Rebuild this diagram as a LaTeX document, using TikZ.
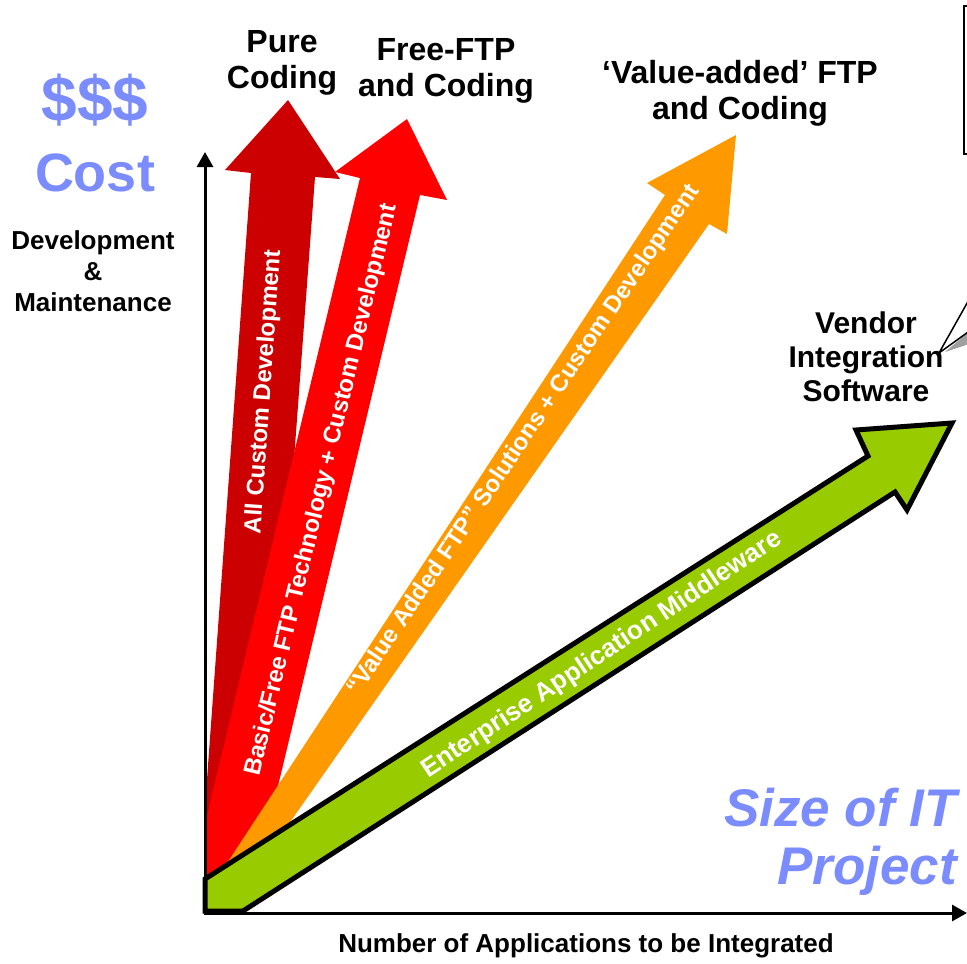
\documentclass[tikz,border=0pt]{standalone}
\usepackage{fontspec}
\setmainfont{Liberation Sans}
\usetikzlibrary{arrows.meta}
\definecolor{darkredA}{HTML}{CC0000}
\definecolor{redA}{HTML}{FF0000}
\definecolor{orangeA}{HTML}{FF9900}
\definecolor{greenA}{HTML}{99CC00}
\definecolor{costblue}{RGB}{122,140,255}
\definecolor{shadowgray}{RGB}{160,160,160}
\begin{document}
\begin{tikzpicture}[x=1pt,y=-1pt,
  toplbl/.style={font=\fontsize{32}{36}\selectfont\bfseries, align=center, inner sep=0pt},
  sidelbl/.style={font=\fontsize{26}{31}\selectfont\bfseries, align=center, inner sep=0pt},
  arrowtxt/.style={font=\fontsize{#1}{28}\selectfont\bfseries, text=white, inner sep=0pt},
  arrowtxt/.default=24,
  bigblue/.style={font=\fontsize{#1}{#1}\selectfont\bfseries, text=costblue, inner sep=0pt},
  bigitalic/.style={font=\fontsize{53}{58}\selectfont\bfseries\itshape, text=costblue, align=right, inner sep=0pt},
  axisline/.style={line width=3pt, -{Triangle[length=15pt,width=16pt]}}]
\useasboundingbox (0,0) rectangle (967,964);
\begin{scope}
\clip (0,0) rectangle (967,964);

% dark red arrow
\fill[darkredA] (288,100) -- (340,179) -- (315,177) -- (262,890) -- (205,890) -- (205,807) -- (251,173) -- (225,170) -- cycle;
% red arrow
\fill[redA] (407,119) -- (447,200) -- (420,195) -- (253,890) -- (205,890) -- (205,824) -- (360,178) -- (335,172) -- cycle;
% orange arrow
\fill[orangeA] (736,135) -- (727,234) -- (709,224) -- (265,858) -- (216,880) -- (665,195) -- (647,183) -- cycle;
% green arrow
\filldraw[fill=greenA, draw=black, line width=5pt, line join=miter]
  (205,879) -- (868,456) -- (856,430) -- (952,423) -- (907,510) -- (895,492) -- (243,911) -- (205,911) -- cycle;

% texts in arrows
\node[arrowtxt, rotate=86] (tAll) at (264,392) {All Custom Development};
\node[arrowtxt, rotate=76.5] (tBasic) at (322,490) {Basic/Free FTP Technology + Custom Development};
\node[arrowtxt, rotate=56] (tValue) at (524,440) {“Value Added FTP” Solutions + Custom Development};
\node[arrowtxt=26, rotate=33.5] (tEnt) at (602,655) {Enterprise Application Middleware};

% callout pointer (box beyond right edge)
\fill[shadowgray] (945,352) -- (972,329) -- (972,343) -- cycle;
\filldraw[fill=white, draw=black, line width=1.5pt] (939,353) -- (975,289) -- (975,327) -- cycle;
\draw[line width=2.5pt] (964,6) rectangle (1000,154);

% axes
\coordinate (O) at (205,912);
\coordinate (Ytop) at (205,152);
\coordinate (Xend) at (967,913);
\draw[axisline] (205,913) -- (Ytop);
\draw[axisline] (204,913) -- (Xend);
\end{scope}

% labels
\node[bigblue=64] (dollars) at (95,100) {\$\$\$};
\node[bigblue=54] (cost) at (95,173) {Cost};
\node[sidelbl] (devmaint) at (93,271) {Development\\\&\\Maintenance};
\node[toplbl] (pure) at (282,63) {Pure\\Coding};
\node[toplbl] (free) at (446,71) {Free-FTP\\and Coding};
\node[toplbl] (valueadded) at (740,93) {‘Value-added’ FTP\\and Coding};
\node[font=\fontsize{30}{34}\selectfont\bfseries, align=center, inner sep=0pt] (vendor) at (866,357) {Vendor\\Integration\\Software};
\node[bigitalic, anchor=east] (size) at (957,842) {Size of IT\\Project};
\node[sidelbl] (xlabel) at (586,946) {Number of Applications to be Integrated};
\end{tikzpicture}
\end{document}
